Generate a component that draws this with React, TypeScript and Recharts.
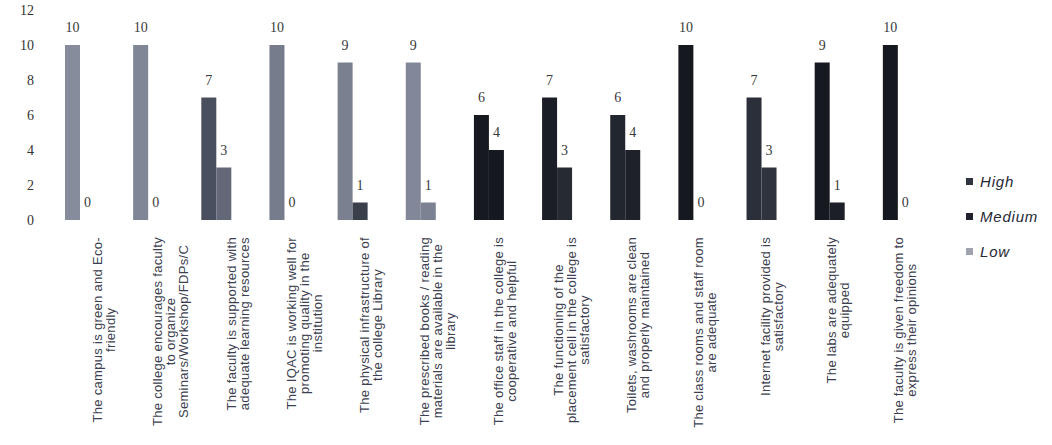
import React from "react";
import { BarChart, Bar, XAxis, YAxis, LabelList, Cell } from "recharts";

// ---- data ----
const categories: string[] = [
  "The campus is green and Eco-\nfriendly",
  "The college encourages faculty\nto organize\nSeminars/Workshop/FDPs/C",
  "The faculty is supported with\nadequate learning resources",
  "The IQAC is working well for\npromoting quality in the\ninstitution",
  "The physical infrastructure of\nthe college Library",
  "The prescribed books / reading\nmaterials are available in the\nlibrary",
  "The office staff in the college is\ncooperative and helpful",
  "The functioning of the\nplacement cell in the college is\nsatisfactory",
  "Toilets, washrooms are clean\nand properly maintained",
  "The class rooms and staff room\nare adequate",
  "Internet facility provided is\nsatisfactory",
  "The labs are adequately\nequipped",
  "The faculty is given freedom to\nexpress their opinions",
];
const high: number[] = [10, 10, 7, 10, 9, 9, 6, 7, 6, 10, 7, 9, 10];
const medium: number[] = [0, 0, 3, 0, 1, 1, 4, 3, 4, 0, 3, 1, 0];
const legendNames: string[] = ["High", "Medium", "Low"];
const yTicks: number[] = [0, 2, 4, 6, 8, 10, 12];

// ---- styles ----
const highColors = ["#868c9c", "#808696", "#4a4f5f", "#767c8c", "#7a8090", "#82889a", "#16191f", "#1b1e26", "#22262f", "#15181f", "#2b2f39", "#16191f", "#15181f"];
const mediumColors = ["#555", "#555", "#626878", "#555", "#3a3f4c", "#7c8292", "#15181f", "#262a33", "#1e2129", "#555", "#2f333d", "#1c1f27", "#555"];
const legendColors = ["#30343f", "#1f222c", "#9ea3ad"];

const data = categories.map((c, i) => ({ name: c, High: high[i], Medium: medium[i] }));

let ctx: CanvasRenderingContext2D | null = null;
const measure = (s: string, font: string, ls: number) => {
  if (!ctx) ctx = document.createElement("canvas").getContext("2d");
  if (!ctx) return s.length * 6.5;
  ctx.font = font;
  return ctx.measureText(s).width + s.length * ls;
};

const TICK_FONT_SIZE = 13;
const TICK_FAMILY = "Liberation Sans";
const TICK_LS = 0.3;

const CategoryTick = (props: any) => {
  const { x, payload, index } = props;
  const lines: string[] = String(payload.value).split("\n");
  const font = `${TICK_FONT_SIZE}px "${TICK_FAMILY}"`;
  const maxW = Math.max(...lines.map((l) => measure(l, font, TICK_LS)));
  const top = 237;
  const cy = top + maxW / 2;
  const i0 = typeof index === "number" ? index : 0;
  const cx = x + 24 - 1.4 * i0;
  const lh = 13;
  const n = lines.length;
  return (
    <g>
      {lines.map((l, i) => {
        const lx = cx + (i - (n - 1) / 2) * lh;
        return (
          <text
            key={i}
            x={lx}
            y={cy}
            transform={`rotate(-90, ${lx}, ${cy})`}
            textAnchor="middle"
            dominantBaseline="central"
            fontFamily={TICK_FAMILY}
            fontSize={TICK_FONT_SIZE}
            letterSpacing={TICK_LS}
            fill="#3c4050"
          >
            {l}
          </text>
        );
      })}
    </g>
  );
};

const labelStyle = { fontFamily: "Liberation Serif", fontSize: 14, fill: "#3a3a3a" };

const zeroVisible = (v: any) => (v === 0 ? 0.01 : 0);

export default function App() {
  return (
    <div style={{ position: "absolute", left: 0, top: 0, width: 1052, height: 445, background: "#fff" }}>
      <BarChart
        width={1052}
        height={445}
        data={data}
        margin={{ top: 10, right: 120, bottom: 0, left: 0 }}
        barGap={0}
      >
        <XAxis
          dataKey="name"
          axisLine={false}
          tickLine={false}
          interval={0}
          height={225}
          tick={<CategoryTick />}
        />
        <YAxis
          domain={[0, 12]}
          ticks={yTicks}
          axisLine={false}
          tickLine={false}
          tickSize={0}
          tickMargin={12}
          width={46}
          tick={{ fontFamily: "Liberation Serif", fontSize: 14, fill: "#333" }}
        />
        <Bar dataKey="High" barSize={15} isAnimationActive={false}>
          {data.map((_, i) => (
            <Cell key={i} fill={highColors[i]} />
          ))}
          <LabelList dataKey="High" position="top" offset={13} style={labelStyle} />
        </Bar>
        <Bar dataKey="Medium" barSize={15} minPointSize={zeroVisible} isAnimationActive={false}>
          {data.map((_, i) => (
            <Cell key={i} fill={mediumColors[i]} />
          ))}
          <LabelList dataKey="Medium" position="top" offset={13} style={labelStyle} />
        </Bar>
      </BarChart>
      <div
        style={{
          position: "absolute",
          left: 966,
          top: 164,
          fontFamily: "Liberation Sans",
          fontStyle: "italic",
          fontSize: 15,
          color: "#262833",
        }}
      >
        {legendNames.map((n, i) => (
          <div key={n} style={{ display: "flex", alignItems: "center", height: 35 }}>
            <span style={{ display: "inline-block", width: 7, height: 7, background: legendColors[i], marginRight: 7 }} />
            <span style={{ letterSpacing: 0.8 }}>{n}</span>
          </div>
        ))}
      </div>
    </div>
  );
}
